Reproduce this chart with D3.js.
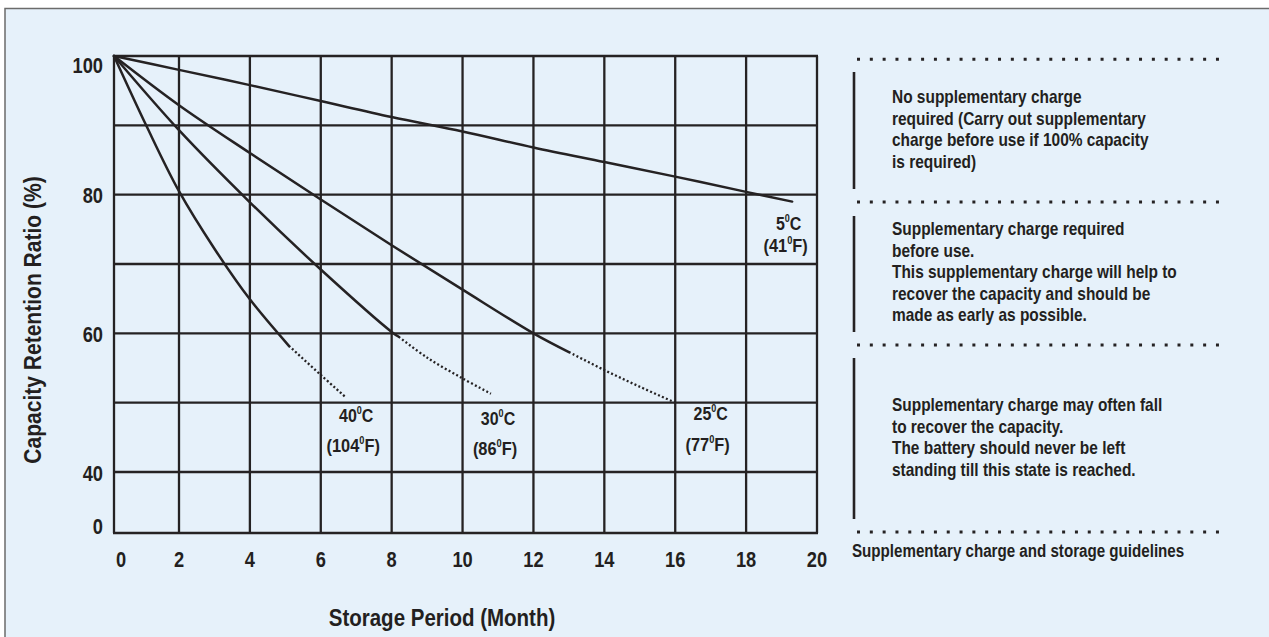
<!DOCTYPE html>
<html>
<head>
<meta charset="utf-8">
<script src="https://cdn.jsdelivr.net/npm/d3@7"></script>
<style>
  html, body { margin: 0; padding: 0; background: #fff; }
  svg text { fill: #231f20; font-family: "Liberation Sans", Arial, sans-serif; font-weight: bold; }
</style>
</head>
<body>
<svg id="chart" width="1269" height="637"></svg>
<script>
// axis ticks
const xTicks = [0, 2, 4, 6, 8, 10, 12, 14, 16, 18, 20];
const yGrid = [100, 90, 80, 70, 60, 50, 40, 0];
const yTickLabels = [100, 80, 60, 40, 0];

// curves: [month, retention %]
const solid5 = [[0, 100], [2, 98], [4, 95.8], [6, 93.5], [8, 91.2], [10, 89.1], [12, 86.8], [14, 84.7], [16, 82.6], [18, 80.4], [19.3, 79.0]];
const solid25 = [[0, 100], [2, 92.9], [4, 86.0], [6, 79.3], [8, 72.7], [10, 66.3], [12, 60], [13, 57.3]];
const dotted25 = [[13, 57.3], [14, 54.7], [15, 52.3], [16, 50]];
const solid30 = [[0, 100], [2, 89.3], [4, 78.9], [6, 69.2], [8, 60.2], [8.2, 59.5]];
const dotted30 = [[8.2, 59.5], [9, 56.5], [10, 53.5], [10.8, 51.3]];
const solid40 = [[0, 100], [1, 89.9], [2, 80.5], [3, 72.2], [4, 64.9], [5.1, 58.2]];
const dotted40 = [[5.1, 58.2], [6, 54.0], [6.7, 50.8]];

// curve labels
const celsius = ["5", "25", "30", "40"];
const fahrenheit = ["41", "77", "86", "104"];
const labelMonth = [19.2, 17.0, 11.0, 7.0];
const labelValueC = [74.9, 47.5, 46.8, 47.2];
const labelValueF = [71.7, 43.1, 42.4, 42.9];

// guideline panel
const guideBlocks = [
    ["No supplementary charge", "required (Carry out supplementary", "charge before use if 100%  capacity", "is required)"],
    ["Supplementary charge required", "before use.", "This supplementary charge will help to", "recover the capacity and should be", "made as early as possible."],
    ["Supplementary charge may often fall", "to recover the capacity.", "The battery should never be left", "standing till this state is reached."]
];
const guideCaption = "Supplementary charge and storage guidelines";

const svg = d3.select("#chart");
const ink = "#252223";

// narrow look: squeeze text horizontally around its anchor
function squeeze(px, py, sx) {
    return `translate(${px},${py}) scale(${sx},1)`;
}

// background panel
svg.append("rect")
    .attr("x", 5).attr("y", 8.5)
    .attr("width", 1300).attr("height", 700)
    .style("fill", "#e6f1fa")
    .style("stroke", "#6b6b6b")
    .style("stroke-width", 1.5);

const x = d3.scaleLinear().domain([0, 2, 20]).range([114, 179, 817]);
const y = d3.scaleLinear().domain([0, 40, 100]).range([533, 472, 56]);

const grid = svg.append("g");
grid.selectAll(".vgrid")
    .data(xTicks)
    .enter().append("line")
    .attr("class", "vgrid")
    .attr("x1", d => x(d)).attr("x2", d => x(d))
    .attr("y1", y(100)).attr("y2", y(0))
    .style("stroke", ink).style("stroke-width", 2.3);
grid.selectAll(".hgrid")
    .data(yGrid)
    .enter().append("line")
    .attr("class", "hgrid")
    .attr("x1", x(0) - 1).attr("x2", x(20) + 1)
    .attr("y1", d => y(d)).attr("y2", d => y(d))
    .style("stroke", ink).style("stroke-width", 2.3);

// tick labels
svg.selectAll(".xlab")
    .data(xTicks)
    .enter().append("text")
    .attr("class", "xlab")
    .attr("transform", d => squeeze(x(d) + (d === 0 ? 7 : 0), y(0) + 34, 0.83))
    .attr("text-anchor", "middle")
    .style("font-size", "22px")
    .text(d => d);

svg.selectAll(".ylab")
    .data(yTickLabels)
    .enter().append("text")
    .attr("class", "ylab")
    .attr("transform", d => squeeze(103, y(d) + (d === 100 ? 9 : d === 0 ? -7 : 1), 0.83))
    .attr("dy", "0.35em")
    .attr("text-anchor", "end")
    .style("font-size", "22px")
    .text(d => d);

// axis titles
svg.append("text")
    .attr("transform", "translate(41,320) rotate(-90) scale(0.895,1)")
    .attr("text-anchor", "middle")
    .style("font-size", "23.5px")
    .text("Capacity Retention Ratio (%)");
svg.append("text")
    .attr("transform", squeeze(442, 626, 0.837))
    .attr("text-anchor", "middle")
    .style("font-size", "24.5px")
    .text("Storage Period (Month)");

// curves
const line = d3.line()
    .x(d => x(d[0]))
    .y(d => y(d[1]))
    .curve(d3.curveCatmullRom.alpha(0.5));

const solids = [solid5, solid25, solid30, solid40];
const dotteds = [dotted25, dotted30, dotted40];

svg.selectAll(".solid")
    .data(solids)
    .enter().append("path")
    .attr("class", "solid")
    .attr("d", line)
    .style("fill", "none")
    .style("stroke", ink)
    .style("stroke-width", 2.5)
    .style("stroke-linecap", "round");

svg.selectAll(".dotted")
    .data(dotteds)
    .enter().append("path")
    .attr("class", "dotted")
    .attr("d", line)
    .style("fill", "none")
    .style("stroke", ink)
    .style("stroke-width", 2.3)
    .style("stroke-dasharray", "2,2.3");

// curve labels
const labels = svg.selectAll(".clabel")
    .data(celsius.map((c, i) => ({ c: c, f: fahrenheit[i], m: labelMonth[i], vc: labelValueC[i], vf: labelValueF[i] })))
    .enter().append("g")
    .attr("class", "clabel");

const tC = labels.append("text")
    .attr("transform", d => squeeze(x(d.m), y(d.vc), 0.86))
    .attr("text-anchor", "middle")
    .style("font-size", "18.6px");
tC.append("tspan").text(d => d.c);
tC.append("tspan").attr("dy", -8).style("font-size", "10.5px").text("0");
tC.append("tspan").attr("dy", 8).text("C");

const tF = labels.append("text")
    .attr("transform", d => squeeze(x(d.m) - 3, y(d.vf), 0.88))
    .attr("text-anchor", "middle")
    .style("font-size", "18.6px");
tF.append("tspan").text(d => "(" + d.f);
tF.append("tspan").attr("dy", -8).style("font-size", "10.5px").text("0");
tF.append("tspan").attr("dy", 8).text("F)");

// guideline panel
const panel = svg.append("g");
const sepY = [59.3, 202, 345, 532];
panel.selectAll(".sep")
    .data(sepY)
    .enter().append("line")
    .attr("class", "sep")
    .attr("x1", 857).attr("x2", 1220)
    .attr("y1", d => d).attr("y2", d => d)
    .style("stroke", ink)
    .style("stroke-width", 3)
    .style("stroke-dasharray", "3,9.82");

const bars = [[72, 189], [216, 332], [358, 519]];
panel.selectAll(".bar")
    .data(bars)
    .enter().append("line")
    .attr("class", "bar")
    .attr("x1", 854).attr("x2", 854)
    .attr("y1", d => d[0]).attr("y2", d => d[1])
    .style("stroke", ink)
    .style("stroke-width", 2.6);

const blockTop = [103.3, 235, 411];
panel.selectAll(".block")
    .data(guideBlocks)
    .enter().append("text")
    .attr("class", "block")
    .attr("transform", (d, i) => squeeze(892, blockTop[i], 0.826))
    .style("font-size", "18.7px")
    .selectAll("tspan")
    .data(d => d)
    .enter().append("tspan")
    .attr("x", 0)
    .attr("dy", (d, i) => i === 0 ? 0 : 21.6)
    .text(d => d);

panel.append("text")
    .attr("transform", squeeze(852, 557, 0.81))
    .style("font-size", "18.7px")
    .text(guideCaption);
</script>
</body>
</html>
